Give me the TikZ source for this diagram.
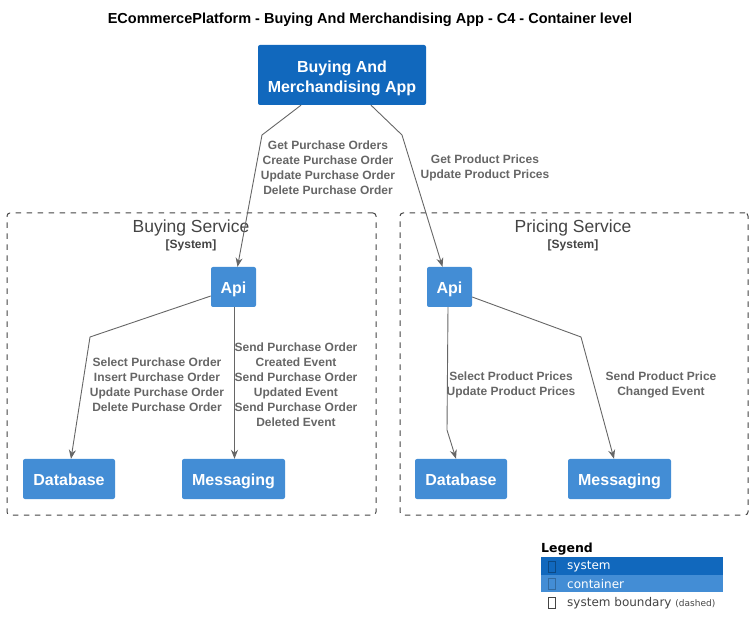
\documentclass[tikz,border=0pt]{standalone}
\usepackage{fontspec}
\setmainfont{Liberation Sans}
\newfontfamily\legendfont{DejaVu Sans}
\usetikzlibrary{arrows.meta,calc}
\definecolor{sysblue}{HTML}{1168BD}
\definecolor{conblue}{HTML}{438DD5}
\definecolor{relgray}{HTML}{666666}
\definecolor{bndgray}{HTML}{444444}

\begin{document}
\begin{tikzpicture}[x=1pt,y=-1pt,
  system/.style={fill=sysblue,rounded corners=2pt,inner sep=0pt},
  systext/.style={text=white,align=center,inner sep=0pt,font=\fontsize{16}{20}\selectfont\bfseries},
  container/.style={fill=conblue,rounded corners=2pt,text=white,inner sep=0pt,
    minimum height=40pt,text height=13.5pt,text depth=0pt,font=\fontsize{16}{19}\selectfont\bfseries},
  boundary/.style={draw=bndgray,line width=1pt,dash pattern=on 5.5pt off 5.5pt,rounded corners=3pt,inner sep=0pt},
  bndtitle/.style={text=bndgray,inner sep=0pt,font=\fontsize{17.5}{20}\selectfont},
  bndtag/.style={text=bndgray,inner sep=0pt,font=\fontsize{12}{14}\selectfont\bfseries},
  rel/.style={draw=relgray,line width=0.9pt,-{Stealth[length=9pt,width=7pt]}},
  rellabel/.style={text=relgray,align=center,inner sep=0pt,font=\fontsize{12}{15}\selectfont\bfseries},
  legendbar/.style={anchor=north west,inner sep=0pt,minimum width=182pt,minimum height=17.5pt},
  legendtext/.style={anchor=west,inner sep=0pt,font=\legendfont\fontsize{12}{14}\selectfont}]
\useasboundingbox (0,0) rectangle (753,636);

% title
\node[inner sep=0pt,font=\fontsize{14.5}{17}\selectfont\bfseries] (title) at (370,20)
  {ECommercePlatform - Buying And Merchandising App - C4 - Container level};

% app
\node[system,minimum width=168pt,minimum height=60pt] (app) at (342,75) {};
\node[systext] (apptext) at (342,78.5) {Buying And\\Merchandising App};

% buying service
\node[boundary,minimum width=369pt,minimum height=302pt] (bsvc) at (191.5,364) {};
\node[bndtitle] (bsvctitle) at (191,228) {Buying Service};
\node[bndtag] (bsvctag) at (191,245) {[System]};
\node[container,minimum width=45pt] (bapi) at (233.5,287) {Api};
\node[container,minimum width=92pt] (bdb) at (69,479) {Database};
\node[container,minimum width=103pt] (bmsg) at (233.5,479) {Messaging};

% pricing service
\node[boundary,minimum width=348pt,minimum height=302pt] (psvc) at (574,364) {};
\node[bndtitle] (psvctitle) at (573,228) {Pricing Service};
\node[bndtag] (psvctag) at (573,245) {[System]};
\node[container,minimum width=45pt] (papi) at (449.5,287) {Api};
\node[container,minimum width=92pt] (pdb) at (461,479) {Database};
\node[container,minimum width=103pt] (pmsg) at (619.5,479) {Messaging};

% relations
\draw[rel] ($(app.south)+(-41,0)$) -- (262,135) -- ($(bapi.north)+(4,0)$);
\node[rellabel] (lblpo) at (328,168)
  {Get Purchase Orders\\Create Purchase Order\\Update Purchase Order\\Delete Purchase Order};
\draw[rel] ($(app.south)+(29,0)$) -- (402,135) -- ($(papi.north)+(-7,0)$);
\node[rellabel] (lblprices) at (485,168) {Get Product Prices\\Update Product Prices};

\draw[rel] ($(bapi.west)+(0,9)$) -- (90,337) -- ($(bdb.north)+(2,0)$);
\node[rellabel] (lblbdb) at (157,385)
  {Select Purchase Order\\Insert Purchase Order\\Update Purchase Order\\Delete Purchase Order};
\draw[rel] ($(bapi.south)+(1,0)$) -- ($(bmsg.north)+(1,0)$);
\node[rellabel] (lblbmsg) at (296,385)
  {Send Purchase Order\\Created Event\\Send Purchase Order\\Updated Event\\Send Purchase Order\\Deleted Event};

\draw[rel] ($(papi.south)+(-1.5,0)$) -- (447,430) -- ($(pdb.north)+(-5,0)$);
\node[rellabel] (lblpdb) at (511,385) {Select Product Prices\\Update Product Prices};
\draw[rel] ($(papi.east)+(0,10)$) -- (581,337) -- ($(pmsg.north)+(-5.5,0)$);
\node[rellabel] (lblpmsg) at (661,385) {Send Product Price\\Changed Event};

% legend
\node[anchor=west,inner sep=0pt,font=\legendfont\fontsize{12.5}{15}\selectfont\bfseries] (legend) at (541,549) {Legend};
\node[legendbar,fill=sysblue] (lgsys) at (541,557) {};
\node[legendbar,fill=conblue] (lgcon) at (541,574.5) {};
\draw[sysblue!70!black] (548,561) rectangle (555,572);
\draw[conblue!75!black] (548,578) rectangle (555,589);
\draw[bndgray] (548,597) rectangle (555,608);
\node[legendtext,text=white] (lgsystext) at (567,567) {system};
\node[legendtext,text=white] (lgcontext) at (567,584.5) {container};
\node[legendtext,text=bndgray] (lgbndtext) at (567,603)
  {system boundary {\fontsize{9}{10}\selectfont(dashed)}};
\end{tikzpicture}
\end{document}
